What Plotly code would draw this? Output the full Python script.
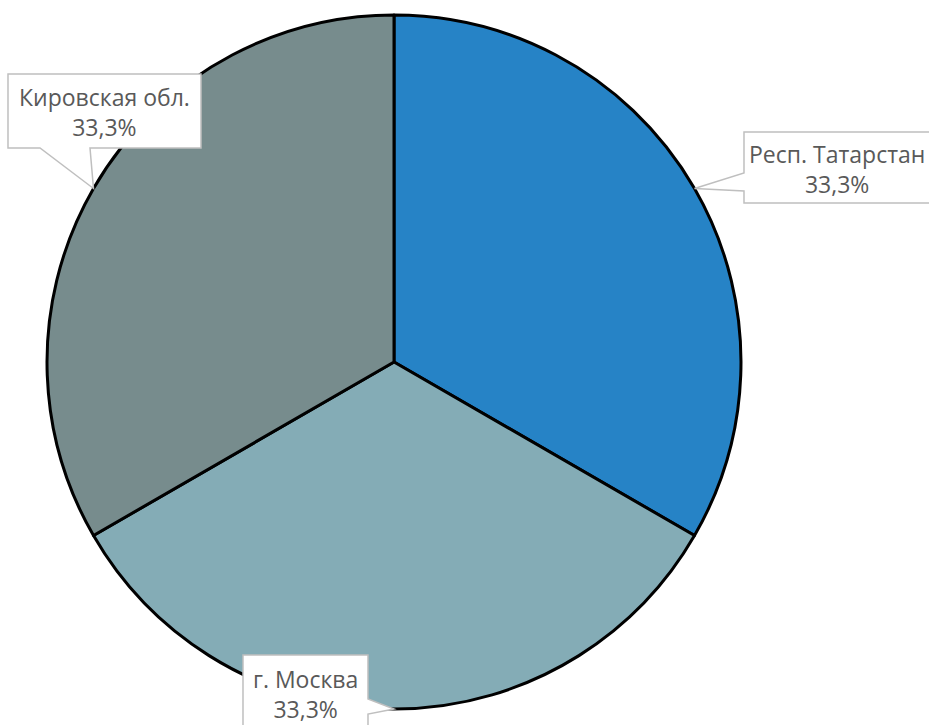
import math
import plotly.graph_objects as go

# Regions and their shares
regions = ["Респ. Татарстан", "г. Москва", "Кировская обл."]
shares = [1, 1, 1]
colors = ["#2683C6", "#84ACB6", "#778C8D"]

W, H = 929, 725
CX, CY, R = 394, 362, 347  # pie centre and radius in pixels

# Callout boxes (pixel box: left, top, right, bottom), pointer base on one edge,
# and the centre of the label text
boxes = {
    "Респ. Татарстан": dict(box=(744, 132, 942, 203), side="left", base=(173, 191), tc=(837, 169)),
    "г. Москва": dict(box=(243, 655, 368, 745), side="right", base=(699, 714), tc=(305.5, 694)),
    "Кировская обл.": dict(box=(8, 74, 201, 148), side="bottom", base=(40, 90), tc=(104.5, 112)),
}


def px(x, y):
    return x / W, 1 - y / H


def fmt_pct(v):
    return f"{v:.1f}".replace(".", ",") + "%"


total = sum(shares)

fig = go.Figure(
    go.Pie(
        labels=regions,
        values=shares,
        sort=False,
        direction="clockwise",
        rotation=0,
        marker=dict(colors=colors, line=dict(color="black", width=3)),
        textinfo="none",
        hoverinfo="label+percent",
        showlegend=False,
        domain=dict(
            x=[(CX - R) / W, (CX + R) / W],
            y=[(H - CY - R) / H, (H - CY + R) / H],
        ),
    )
)

shapes = []
annotations = []
cum = 0
for name, s in zip(regions, shares):
    mid = (cum + s / 2) / total * 360  # clockwise from top
    cum += s
    tx = CX + R * math.sin(math.radians(mid))
    ty = CY - R * math.cos(math.radians(mid))
    b = boxes[name]
    l, t, r, btm = b["box"]
    if b["side"] == "left":
        y1, y2 = b["base"]
        pts = [(l, t), (r, t), (r, btm), (l, btm), (l, y2), (tx, ty), (l, y1)]
    elif b["side"] == "right":
        y1, y2 = b["base"]
        pts = [(l, t), (r, t), (r, y1), (tx, ty), (r, y2), (r, btm), (l, btm)]
    else:
        x1, x2 = b["base"]
        pts = [(l, t), (r, t), (r, btm), (x2, btm), (tx, ty), (x1, btm), (l, btm)]
    path = "M " + " L ".join("%.5f,%.5f" % px(*q) for q in pts) + " Z"
    shapes.append(dict(type="path", xref="paper", yref="paper", path=path,
                       fillcolor="white", line=dict(color="#BFBFBF", width=1.5),
                       layer="above"))
    ax, ay = px(*b["tc"])
    annotations.append(dict(
        x=ax, y=ay, xref="paper", yref="paper",
        text=f"{name}<br>{fmt_pct(s / total * 100)}",
        showarrow=False, xanchor="center", yanchor="middle",
        font=dict(family="Open Sans", size=23, color="#595959"),
    ))

fig.update_layout(
    width=W, height=H,
    margin=dict(l=0, r=0, t=0, b=0),
    paper_bgcolor="white",
    plot_bgcolor="white",
    shapes=shapes,
    annotations=annotations,
)

fig.write_html("out.html")
